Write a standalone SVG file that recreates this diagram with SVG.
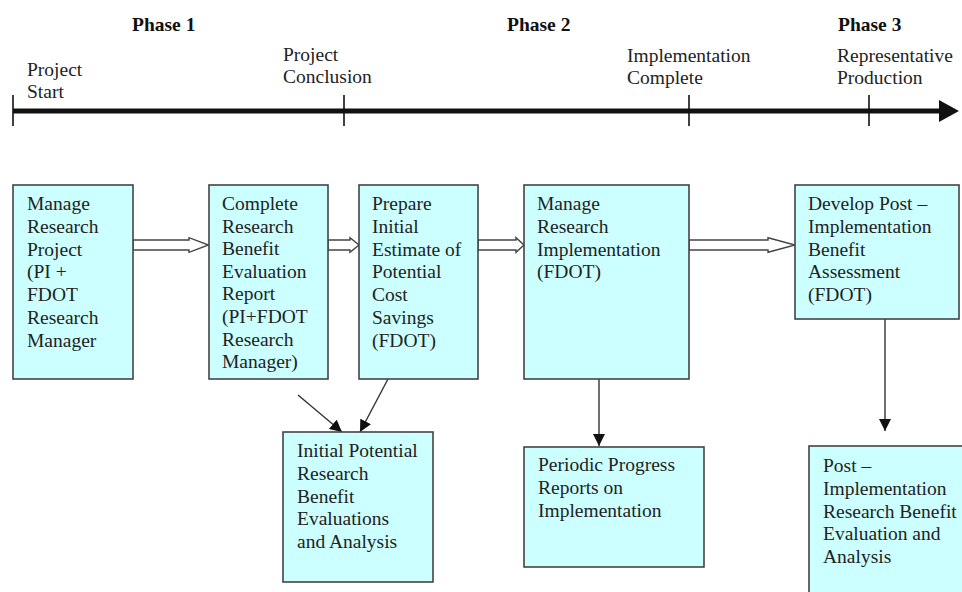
<svg xmlns="http://www.w3.org/2000/svg" width="962" height="592" viewBox="0 0 962 592">
<defs>
<style>
text{font-family:"Liberation Serif","Times New Roman",serif;font-size:19.5px;fill:#222}
.ph{font-weight:bold;fill:#111}
.box{fill:#ccffff;stroke:#444;stroke-width:1.6}
.tick{stroke:#111;stroke-width:1.6}
.blk{fill:#fff;stroke:#444;stroke-width:1.4;stroke-linejoin:miter}
.ln{stroke:#333;stroke-width:1.4;fill:none}
</style>
<marker id="ah" viewBox="0 0 12 12" refX="12" refY="6" markerWidth="12" markerHeight="12" markerUnits="userSpaceOnUse" orient="auto">
<path d="M0,0 L12,6 L0,12 Z" fill="#111"/>
</marker>
</defs>

<g id="timeline">
<line x1="13" y1="111" x2="941" y2="111" stroke="#111" stroke-width="5"/>
<path d="M939,100 L959,111 L939,122 Z" fill="#111"/>
<line class="tick" x1="13" y1="95" x2="13" y2="126"/>
<line class="tick" x1="344" y1="95" x2="344" y2="126"/>
<line class="tick" x1="689" y1="95" x2="689" y2="126"/>
<line class="tick" x1="869" y1="95" x2="869" y2="126"/>
<text class="ph" x="132" y="31">Phase 1</text>
<text class="ph" x="507" y="31">Phase 2</text>
<text class="ph" x="838" y="31">Phase 3</text>
<text x="27" y="76">Project</text>
<text x="27" y="98">Start</text>
<text x="283" y="61">Project</text>
<text x="283" y="83">Conclusion</text>
<text x="627" y="62">Implementation</text>
<text x="627" y="84">Complete</text>
<text x="837" y="62">Representative</text>
<text x="837" y="84">Production</text>
</g>

<g id="connectors">
<path class="blk" d="M133,240 L189,240 L189,237.7 L208.5,245 L189,252.3 L189,250 L133,250 Z"/>
<path class="blk" d="M328,240 L350,240 L350,237.7 L359,245 L350,252.3 L350,250 L328,250 Z"/>
<path class="blk" d="M478,240 L516,240 L516,237.7 L524,245 L516,252.3 L516,250 L478,250 Z"/>
<path class="blk" d="M689,240 L768,240 L768,237.7 L795,245 L768,252.3 L768,250 L689,250 Z"/>
<line class="ln" x1="298" y1="395" x2="342" y2="432" marker-end="url(#ah)"/>
<line class="ln" x1="388" y1="379" x2="360" y2="432" marker-end="url(#ah)"/>
<line class="ln" x1="599" y1="365" x2="599" y2="446" marker-end="url(#ah)"/>
<line class="ln" x1="885" y1="319" x2="885" y2="431" marker-end="url(#ah)"/>
</g>

<g id="n1">
<rect class="box" x="13" y="185" width="120" height="194"/>
<text x="27" y="210">Manage</text>
<text x="27" y="232.8">Research</text>
<text x="27" y="255.6">Project</text>
<text x="27" y="278.4">(PI +</text>
<text x="27" y="301.2">FDOT</text>
<text x="27" y="324">Research</text>
<text x="27" y="346.8">Manager</text>
</g>

<g id="n2">
<rect class="box" x="209" y="185" width="119" height="194"/>
<text x="222" y="210">Complete</text>
<text x="222" y="232.6">Research</text>
<text x="222" y="255.2">Benefit</text>
<text x="222" y="277.8">Evaluation</text>
<text x="222" y="300.4">Report</text>
<text x="222" y="323">(PI+FDOT</text>
<text x="222" y="345.6">Research</text>
<text x="222" y="368.2">Manager)</text>
</g>

<g id="n3">
<rect class="box" x="359" y="185" width="119" height="194"/>
<text x="372" y="210">Prepare</text>
<text x="372" y="232.8">Initial</text>
<text x="372" y="255.6">Estimate of</text>
<text x="372" y="278.4">Potential</text>
<text x="372" y="301.2">Cost</text>
<text x="372" y="324">Savings</text>
<text x="372" y="346.8">(FDOT)</text>
</g>

<g id="n4">
<rect class="box" x="524" y="185" width="165" height="194"/>
<text x="537" y="210">Manage</text>
<text x="537" y="232.8">Research</text>
<text x="537" y="255.6">Implementation</text>
<text x="537" y="278.4">(FDOT)</text>
</g>

<g id="n5">
<rect class="box" x="795" y="185" width="164" height="134"/>
<text x="808" y="210">Develop Post –</text>
<text x="808" y="232.8">Implementation</text>
<text x="808" y="255.6">Benefit</text>
<text x="808" y="278.4">Assessment</text>
<text x="808" y="301.2">(FDOT)</text>
</g>

<g id="n6">
<rect class="box" x="283" y="432" width="150" height="150"/>
<text x="297" y="457">Initial Potential</text>
<text x="297" y="479.8">Research</text>
<text x="297" y="502.6">Benefit</text>
<text x="297" y="525.4">Evaluations</text>
<text x="297" y="548.2">and Analysis</text>
</g>

<g id="n7">
<rect class="box" x="524" y="447" width="180" height="120"/>
<text x="538" y="471">Periodic Progress</text>
<text x="538" y="494">Reports on</text>
<text x="538" y="517">Implementation</text>
</g>

<g id="n8">
<rect class="box" x="809" y="446" width="170" height="170"/>
<text x="823" y="472">Post –</text>
<text x="823" y="494.8">Implementation</text>
<text x="823" y="517.6">Research Benefit</text>
<text x="823" y="540.4">Evaluation and</text>
<text x="823" y="563.2">Analysis</text>
</g>
</svg>
